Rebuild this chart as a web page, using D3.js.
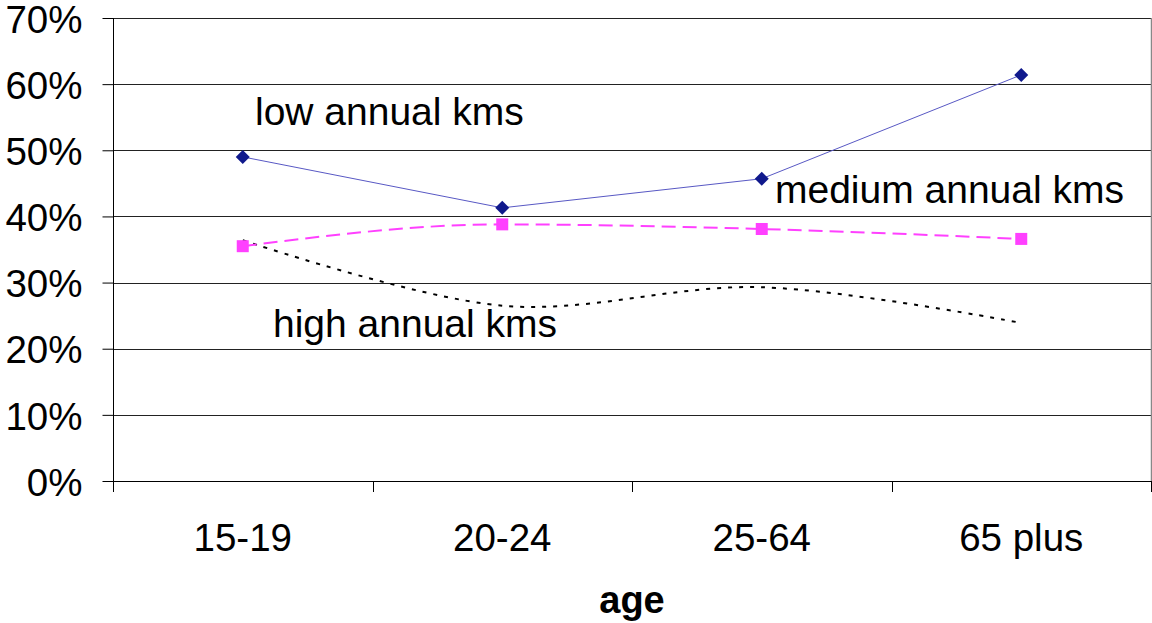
<!DOCTYPE html>
<html><head><meta charset="utf-8">
<script src="https://cdn.jsdelivr.net/npm/d3@7"></script>
<style>html,body{margin:0;padding:0;background:#fff;}svg{display:block;font-family:"Liberation Sans",Arial,sans-serif;}</style>
</head><body>
<svg id="chart" width="1152" height="623"></svg>
<script>
const categories = ["15-19", "20-24", "25-64", "65 plus"];
const lowKms = [0.490, 0.413, 0.457, 0.614];
const mediumKms = [0.355, 0.388, 0.381, 0.366];
const highKms = [0.364, 0.265, 0.293, 0.239];
const yTicks = [0, 0.1, 0.2, 0.3, 0.4, 0.5, 0.6, 0.7];
const seriesLabels = ["low annual kms", "medium annual kms", "high annual kms"];
const xTitle = "age";

const svg = d3.select("#chart");
const L = 113, R = 1151, T = 18, B = 481;
const x = d3.scaleBand().domain(categories).range([L, R]);
const y = d3.scaleLinear().domain([0, 0.7]).range([B, T]);
const cx = c => x(c) + x.bandwidth() / 2;
const FONT = '"Liberation Sans",Arial,sans-serif';

// gridlines
svg.append("g").selectAll("line").data(yTicks.slice(1)).join("line")
  .attr("x1", L).attr("x2", R)
  .attr("y1", d => Math.round(y(d)) + 0.5).attr("y2", d => Math.round(y(d)) + 0.5)
  .attr("stroke", "#222").attr("stroke-width", 1);
// right border
svg.append("line").attr("x1", R + 0.5).attr("x2", R + 0.5).attr("y1", T).attr("y2", B)
  .attr("stroke", "#888").attr("stroke-width", 1.5);

// y axis
const yAxis = d3.axisLeft(y).tickValues(yTicks).tickFormat(d3.format(".0%")).tickSize(11).tickPadding(20);
const gy = svg.append("g").attr("transform", `translate(${L + 0.5},0)`).call(yAxis);
gy.select(".domain").attr("stroke", "#000").attr("d", `M0,${T}V${B + 11}`);
gy.selectAll(".tick line").attr("stroke", "#000");
gy.selectAll(".tick text").attr("font-size", 38.5).attr("fill", "#000")
  .attr("font-family", FONT).attr("dy", "0.37em");

// x axis
const xAxis = d3.axisBottom(x).tickSize(0).tickPadding(0);
const gx = svg.append("g").attr("transform", `translate(0,${B + 0.5})`).call(xAxis);
gx.select(".domain").attr("stroke", "#000").attr("d", `M${L},0H${R}`);
gx.selectAll(".tick text").attr("font-size", 38.5).attr("fill", "#000")
  .attr("font-family", FONT).attr("dy", null).attr("y", 69);
// category boundary ticks
const bounds = categories.map(c => x(c)).concat([R]);
svg.append("g").selectAll("line").data(bounds).join("line")
  .attr("x1", d => Math.round(d) + 0.5).attr("x2", d => Math.round(d) + 0.5)
  .attr("y1", B).attr("y2", B + 11).attr("stroke", "#000");

// lines
const straight = d3.line().x((d, i) => cx(categories[i])).y(d => y(d));
const smoothCR = d3.line().x((d, i) => cx(categories[i])).y(d => y(d)).curve(d3.curveCatmullRom.alpha(0.5));
const smoothMono = d3.line().x((d, i) => cx(categories[i])).y(d => y(d)).curve(d3.curveMonotoneX);

svg.append("path").datum(highKms).attr("d", smoothCR).attr("fill", "none")
  .attr("stroke", "#000").attr("stroke-width", 2).attr("stroke-dasharray", "4,7");
svg.append("path").datum(mediumKms).attr("d", smoothMono).attr("fill", "none")
  .attr("stroke", "#ff40ff").attr("stroke-width", 2).attr("stroke-dasharray", "14,7");
svg.append("path").datum(lowKms).attr("d", straight).attr("fill", "none")
  .attr("stroke", "#5858c4").attr("stroke-width", 1);

// markers
svg.append("g").selectAll("rect").data(mediumKms).join("rect")
  .attr("x", (d, i) => cx(categories[i]) - 6).attr("y", d => y(d) - 6)
  .attr("width", 12).attr("height", 12).attr("fill", "#ff40ff");
svg.append("g").selectAll("path").data(lowKms).join("path")
  .attr("d", (d, i) => { const px = cx(categories[i]), py = y(d); return `M${px},${py - 7}L${px + 7},${py}L${px},${py + 7}L${px - 7},${py}Z`; })
  .attr("fill", "#10198c");

// series labels
const lab = svg.append("g").attr("font-size", 39).attr("fill", "#000");
lab.append("text").attr("x", 255).attr("y", 125).text(seriesLabels[0]);
lab.append("text").attr("x", 775).attr("y", 203).text(seriesLabels[1]);
lab.append("text").attr("x", 273).attr("y", 337).text(seriesLabels[2]);

// x title
svg.append("text").attr("x", 632).attr("y", 613).attr("text-anchor", "middle")
  .attr("font-size", 38).attr("font-weight", "bold").text(xTitle);
</script>
</body></html>
